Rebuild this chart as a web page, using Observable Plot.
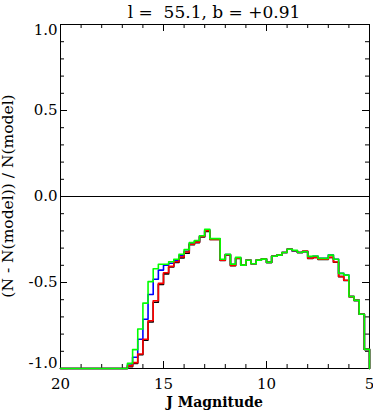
<!DOCTYPE html>
<html><head><meta charset="utf-8">
<script src="https://cdn.jsdelivr.net/npm/d3@7"></script>
<script src="https://cdn.jsdelivr.net/npm/@observablehq/plot@0.6"></script>
<style>body{margin:0;background:#fff}</style>
</head><body><div id="chart"></div>
<script>
const title = "l =  55.1, b = +0.91";
const xLabel = "J Magnitude";
const yLabel = "(N - N(model)) / N(model)";
const xTickLabels = [20, 15, 10, 5];
const xMinorTicks = [19, 18, 17, 16, 14, 13, 12, 11, 9, 8, 7, 6];
const yTickLabels = [-1.0, -0.5, 0.0, 0.5, 1.0];
const yMinorTicks = [-0.9, -0.8, -0.7, -0.6, -0.4, -0.3, -0.2, -0.1, 0.1, 0.2, 0.3, 0.4, 0.6, 0.7, 0.8, 0.9];

// bin edges (J mag), histogram steps drawn left to right (bright end on the right)
const jmag = [20, 16.75, 16.5, 16.25, 16.0, 15.75, 15.5, 15.25, 15.0, 14.75, 14.5,
  14.25, 14.0, 13.75, 13.5, 13.25, 13.0, 12.75, 12.5, 12.25, 12.0,
  11.75, 11.5, 11.25, 11.0, 10.75, 10.5, 10.25, 10.0, 9.75, 9.5,
  9.25, 9.0, 8.75, 8.5, 8.25, 8.0, 7.75, 7.5, 7.25, 7.0,
  6.75, 6.5, 6.25, 6.0, 5.75, 5.5, 5.25, 5.0];

const blackVals = [-1, -0.99, -0.97, -0.92, -0.835, -0.73, -0.615, -0.512, -0.45, -0.41, -0.383,
  -0.357, -0.33, -0.28, -0.268, -0.235, -0.203, -0.25, -0.25, -0.372, -0.34,
  -0.402, -0.36, -0.399, -0.371, -0.391, -0.370, -0.364, -0.383, -0.347, -0.341,
  -0.326, -0.307, -0.316, -0.326, -0.319, -0.36, -0.355, -0.366, -0.366, -0.355,
  -0.382, -0.466, -0.488, -0.582, -0.604, -0.685, -0.889, -1];
const blueVals = [-1, -0.98, -0.935, -0.83, -0.714, -0.57, -0.481, -0.428, -0.40, -0.388, -0.372,
  -0.345, -0.318, -0.274, -0.26, -0.23, -0.195, -0.247, -0.247, -0.368, -0.337,
  -0.396, -0.356, -0.399, -0.371, -0.391, -0.370, -0.364, -0.383, -0.347, -0.341,
  -0.326, -0.307, -0.318, -0.326, -0.321, -0.35, -0.347, -0.36, -0.36, -0.341,
  -0.365, -0.447, -0.457, -0.581, -0.604, -0.685, -0.889, -1];
const redVals = [-1, -0.985, -0.966, -0.916, -0.83, -0.722, -0.606, -0.505, -0.443, -0.406, -0.379,
  -0.352, -0.323, -0.278, -0.265, -0.232, -0.199, -0.249, -0.249, -0.371, -0.339,
  -0.401, -0.359, -0.399, -0.371, -0.391, -0.370, -0.364, -0.383, -0.347, -0.341,
  -0.326, -0.307, -0.315, -0.326, -0.319, -0.359, -0.354, -0.365, -0.365, -0.354,
  -0.381, -0.465, -0.487, -0.582, -0.604, -0.685, -0.889, -1];
const greenVals = [-1, -0.97, -0.89, -0.77, -0.62, -0.495, -0.42, -0.394, -0.394, -0.379, -0.365,
  -0.336, -0.309, -0.268, -0.256, -0.228, -0.19, -0.245, -0.245, -0.365, -0.336,
  -0.393, -0.354, -0.399, -0.371, -0.391, -0.370, -0.364, -0.383, -0.347, -0.341,
  -0.326, -0.307, -0.313, -0.326, -0.321, -0.348, -0.346, -0.360, -0.360, -0.341,
  -0.365, -0.447, -0.457, -0.581, -0.604, -0.685, -0.889, -1];

const seriesNames = ["black", "blue", "red", "green"];
const seriesColors = ["#000000", "#0000ff", "#ff0000", "#00ff00"];
const seriesValues = [blackVals, blueVals, redVals, greenVals];

const W = 373, H = 414, mL = 60, mR = 4, mT = 24, mB = 46;
const innerW = W - mL - mR, innerH = H - mT - mB;
const FONT = "DejaVu Serif";
const MAJ = 7, MIN = 4;

const lineMarks = seriesNames.map((name, k) =>
  Plot.line(jmag.map((x, i) => ({x, y: seriesValues[k][i]})), {
    x: "x", y: "y", curve: "step-after", stroke: seriesColors[k], strokeWidth: 1.6
  })
);

const yLabelShift = {"1": 6, "-1": -5};

const plot = Plot.plot({
  width: W, height: H,
  marginLeft: mL, marginRight: mR, marginTop: mT, marginBottom: mB,
  style: {background: "#fff", color: "#000"},
  x: {domain: [20, 5], label: null},
  y: {domain: [-1, 1], label: null},
  marks: [
    Plot.frame({stroke: "#000", strokeWidth: 1}),
    Plot.tickX(xTickLabels, {x: d => d, insetTop: innerH - MAJ, stroke: "#000"}),
    Plot.tickX(xTickLabels, {x: d => d, insetBottom: innerH - MAJ, stroke: "#000"}),
    Plot.tickX(xMinorTicks, {x: d => d, insetTop: innerH - MIN, stroke: "#000"}),
    Plot.tickX(xMinorTicks, {x: d => d, insetBottom: innerH - MIN, stroke: "#000"}),
    Plot.tickY(yTickLabels, {y: d => d, insetRight: innerW - MAJ, stroke: "#000"}),
    Plot.tickY(yTickLabels, {y: d => d, insetLeft: innerW - MAJ, stroke: "#000"}),
    Plot.tickY(yMinorTicks, {y: d => d, insetRight: innerW - MIN, stroke: "#000"}),
    Plot.tickY(yMinorTicks, {y: d => d, insetLeft: innerW - MIN, stroke: "#000"}),
    Plot.ruleY([0], {stroke: "#000", strokeWidth: 1}),
    ...lineMarks,
    Plot.axisX(xTickLabels, {tickSize: 0, tickPadding: 10, fontSize: 15, fontFamily: FONT, label: null, tickFormat: d => String(d)}),
    Plot.axisY(yTickLabels.filter(d => Math.abs(d) < 1), {tickSize: 0, tickPadding: 3, fontSize: 15, fontFamily: FONT, label: null, tickFormat: d => d.toFixed(1)}),
    Plot.axisY([1.0], {tickSize: 0, tickPadding: 3, dy: yLabelShift["1"], fontSize: 15, fontFamily: FONT, label: null, tickFormat: d => d.toFixed(1)}),
    Plot.axisY([-1.0], {tickSize: 0, tickPadding: 3, dy: yLabelShift["-1"], fontSize: 15, fontFamily: FONT, label: null, tickFormat: d => d.toFixed(1)})
  ]
});

const svg = d3.select(plot);
svg.append("text").text(title)
  .attr("x", 214).attr("y", 17.5).attr("text-anchor", "middle")
  .attr("font-family", FONT).attr("font-size", 17).attr("fill", "#000");
svg.append("text").text(xLabel)
  .attr("x", 214.5).attr("y", 407).attr("text-anchor", "middle")
  .attr("font-family", FONT).attr("font-weight", "bold").attr("font-size", 14).attr("fill", "#000");
svg.append("text").text(yLabel)
  .attr("transform", "translate(13,196) rotate(-90)").attr("text-anchor", "middle")
  .attr("font-family", FONT).attr("font-size", 15.5).attr("fill", "#000");

document.getElementById("chart").appendChild(plot);
</script>
</body></html>
